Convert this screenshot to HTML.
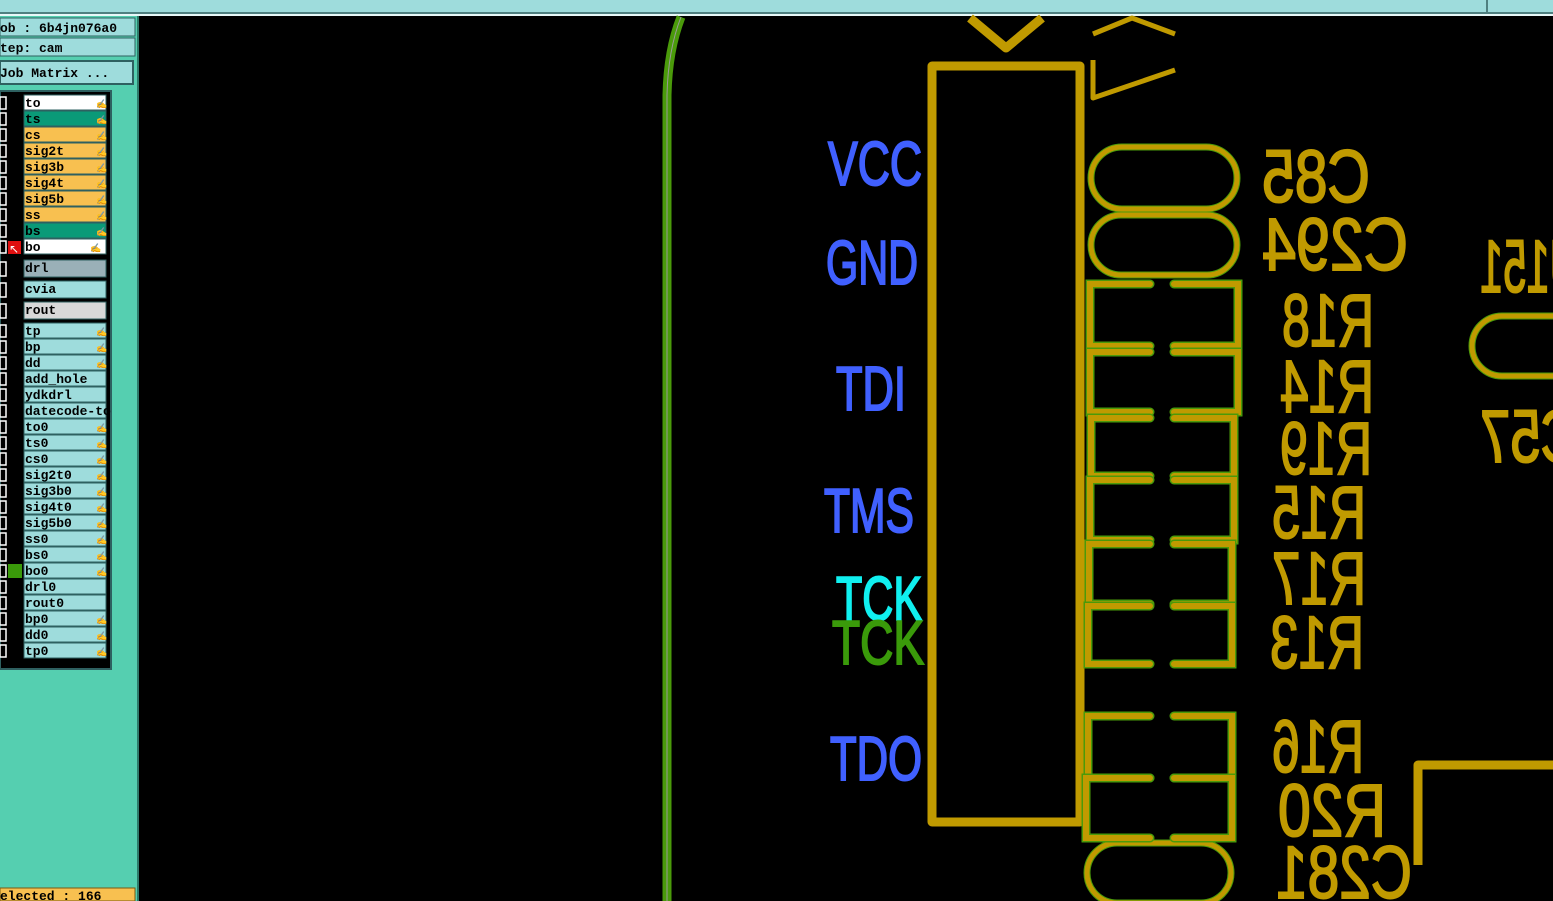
<!DOCTYPE html>
<html><head><meta charset="utf-8"><style>
html,body{margin:0;padding:0;background:#000;width:1553px;height:901px;overflow:hidden}
svg{display:block}
.m{font-family:"Liberation Mono",monospace;font-size:13px;font-weight:bold;fill:#000}
.s{font-family:"Liberation Sans",sans-serif}
</style></head><body>
<svg width="1553" height="901" viewBox="0 0 1553 901" xmlns="http://www.w3.org/2000/svg">
<rect width="1553" height="901" fill="#000"/>
<rect x="0" y="0" width="1553" height="12" fill="#9edcdc"/>
<rect x="0" y="12" width="1553" height="2" fill="#4f8080"/>
<rect x="0" y="14" width="1553" height="2" fill="#e8f8f8"/>
<rect x="1486" y="0" width="2" height="14" fill="#4f8080"/>
<rect x="0" y="16" width="137" height="885" fill="#55cfb0"/>
<rect x="137" y="16" width="2" height="885" fill="#2e7a6a"/>
<rect x="0" y="18" width="135" height="18" fill="#9edcdc" stroke="#2e6060" stroke-width="1"/>
<text class="m" x="0" y="32">ob : 6b4jn076a0</text>
<rect x="0" y="38" width="135" height="18" fill="#9edcdc" stroke="#2e6060" stroke-width="1"/>
<text class="m" x="0" y="52">tep: cam</text>
<rect x="0" y="61" width="133" height="23" fill="#9edcdc" stroke="#2e6060" stroke-width="2"/>
<text class="m" x="0" y="77">Job Matrix ...</text>
<rect x="0" y="91" width="111" height="578" fill="#000" stroke="#2e6060" stroke-width="2"/>
<g id="rows"></g>
<rect x="0" y="888" width="135" height="13" fill="#f8c050" stroke="#7a5a10"/>
<text class="m" x="0" y="900">elected : 166</text>

<path d="M681 17 Q668 50 667 95 L667 901" stroke="#4a9a0a" stroke-width="9" fill="none"/>
<path d="M681 17 Q668 50 667 95 L667 901" stroke="#9a9a9a" stroke-width="1" fill="none"/>

<g stroke="#c09a00" fill="none" stroke-linejoin="round">
<path d="M970 18 L1006 48 L1042 18" stroke-width="9"/>
<path d="M1093 34 L1132 18 L1175 34" stroke-width="5"/>
<path d="M1093 60 L1093 98 L1175 70" stroke-width="5"/>
<rect x="932" y="66" width="148" height="756" stroke-width="9"/>
<path d="M1418 865 L1418 765 L1553 765" stroke-width="9"/>
</g>
<g fill="none">
<g stroke="#4a9a0a" stroke-width="7">
<rect x="1091" y="147" width="146" height="62" rx="31"/>
<rect x="1091" y="215" width="146" height="60" rx="30"/>
<rect x="1087" y="843" width="144" height="60" rx="30"/>
<rect x="1472" y="316" width="120" height="60" rx="30"/>
</g>
<g stroke="#c09a00" stroke-width="5">
<rect x="1091" y="147" width="146" height="62" rx="31"/>
<rect x="1091" y="215" width="146" height="60" rx="30"/>
<rect x="1087" y="843" width="144" height="60" rx="30"/>
<rect x="1472" y="316" width="120" height="60" rx="30"/>
</g>
</g>
<g id="res" fill="none" stroke-linecap="round"></g>

<g class="s" stroke-width="2">
<text x="828" y="185" textLength="94" lengthAdjust="spacingAndGlyphs" font-size="62" fill="#4060ff" stroke="#4060ff">VCC</text>
<text x="826" y="284" textLength="92" lengthAdjust="spacingAndGlyphs" font-size="62" fill="#4060ff" stroke="#4060ff">GND</text>
<text x="836" y="410" textLength="70" lengthAdjust="spacingAndGlyphs" font-size="62" fill="#4060ff" stroke="#4060ff">TDI</text>
<text x="824" y="532" textLength="90" lengthAdjust="spacingAndGlyphs" font-size="62" fill="#4060ff" stroke="#4060ff">TMS</text>
<text x="836" y="620" textLength="86" lengthAdjust="spacingAndGlyphs" font-size="62" fill="#10f0f0" stroke="#10f0f0">TCK</text>
<text x="832" y="664" textLength="92" lengthAdjust="spacingAndGlyphs" font-size="62" fill="#3a9a0a" stroke="#3a9a0a">TCK</text>
<text x="830" y="780" textLength="92" lengthAdjust="spacingAndGlyphs" font-size="62" fill="#4060ff" stroke="#4060ff">TDO</text>
</g>
<g class="s" fill="#c09a00" stroke="#c09a00" stroke-width="2" font-size="74" transform="scale(-1,1)">
<text x="-1370" y="202" textLength="108" lengthAdjust="spacingAndGlyphs">C85</text>
<text x="-1408" y="270" textLength="146" lengthAdjust="spacingAndGlyphs">C294</text>
<text x="-1374" y="346" textLength="92" lengthAdjust="spacingAndGlyphs">R18</text>
<text x="-1374" y="412" textLength="94" lengthAdjust="spacingAndGlyphs">R14</text>
<text x="-1372" y="474" textLength="92" lengthAdjust="spacingAndGlyphs">R19</text>
<text x="-1366" y="538" textLength="94" lengthAdjust="spacingAndGlyphs">R15</text>
<text x="-1366" y="604" textLength="94" lengthAdjust="spacingAndGlyphs">R17</text>
<text x="-1364" y="668" textLength="94" lengthAdjust="spacingAndGlyphs">R13</text>
<text x="-1364" y="772" textLength="92" lengthAdjust="spacingAndGlyphs">R16</text>
<text x="-1386" y="836" textLength="108" lengthAdjust="spacingAndGlyphs">R20</text>
<text x="-1412" y="898" textLength="136" lengthAdjust="spacingAndGlyphs">C281</text>
<text x="-1580" y="292" textLength="100" lengthAdjust="spacingAndGlyphs">U151</text>
<text x="-1580" y="462" textLength="100" lengthAdjust="spacingAndGlyphs">C57</text>
</g>
</svg>
<script>
var rows=[["to","#fff",1],["ts","#0a9a78",1],["cs","#f8c050",1],["sig2t","#f8c050",1],["sig3b","#f8c050",1],["sig4t","#f8c050",1],["sig5b","#f8c050",1],["ss","#f8c050",1],["bs","#0a9a78",1],["bo","#fff",2]];
var g=document.getElementById("rows"),h="";
function row(y,n,c,a,hh){hh=hh||16;
h+='<rect x="0" y="'+(y+2)+'" width="6" height="'+(hh-4)+'" fill="#000" stroke="#fff" stroke-width="1.5"/>';
h+='<rect x="24" y="'+y+'" width="82" height="'+(hh-1)+'" fill="'+c+'" stroke="#2e6060"/>';
h+='<text class="m" x="25" y="'+(y+12)+'">'+n+'</text>';
if(a)h+='<text x="'+(a==2?90:96)+'" y="'+(y+12)+'" font-size="9" fill="#000">&#9997;</text>';}
var y=95;rows.forEach(function(r){row(y,r[0],r[1],r[2]);y+=16;});
h+='<rect x="8" y="241" width="13" height="13" fill="#e01010"/><text x="9" y="253" font-size="12" fill="#fff">&#8598;</text>';
row(260,"drl","#9ab0b8",0,18);row(281,"cvia","#9edcdc",0,18);row(302,"rout","#d8d8d8",0,18);
var r2=[["tp",1],["bp",1],["dd",1],["add_hole",0],["ydkdrl",0],["datecode-to",0],["to0",1],["ts0",1],["cs0",1],["sig2t0",1],["sig3b0",1],["sig4t0",1],["sig5b0",1],["ss0",1],["bs0",1],["bo0",1],["drl0",0],["rout0",0],["bp0",1],["dd0",1],["tp0",1]];
y=323;r2.forEach(function(r){row(y,r[0],"#9edcdc",r[1]);y+=16;});
h+='<rect x="8" y="564" width="14" height="14" fill="#3a9a0a"/>';
g.innerHTML=h;
var R=[[284,346,1090,1238],[352,412,1090,1238],[418,476,1091,1234],[480,540,1090,1234],[544,604,1089,1232],[606,664,1088,1232],[716,778,1088,1232],[778,838,1086,1232]];
var s="";
R.forEach(function(r){var d="M1150 "+r[0]+" H"+r[2]+" V"+r[1]+" H1150 M1174 "+r[0]+" H"+r[3]+" V"+r[1]+" H1174";
s+='<path d="'+d+'" stroke="#4a9a0a" stroke-width="9"/><path d="'+d+'" stroke="#c09a00" stroke-width="6"/>';});
document.getElementById("res").innerHTML=s;
</script>
</body></html>
